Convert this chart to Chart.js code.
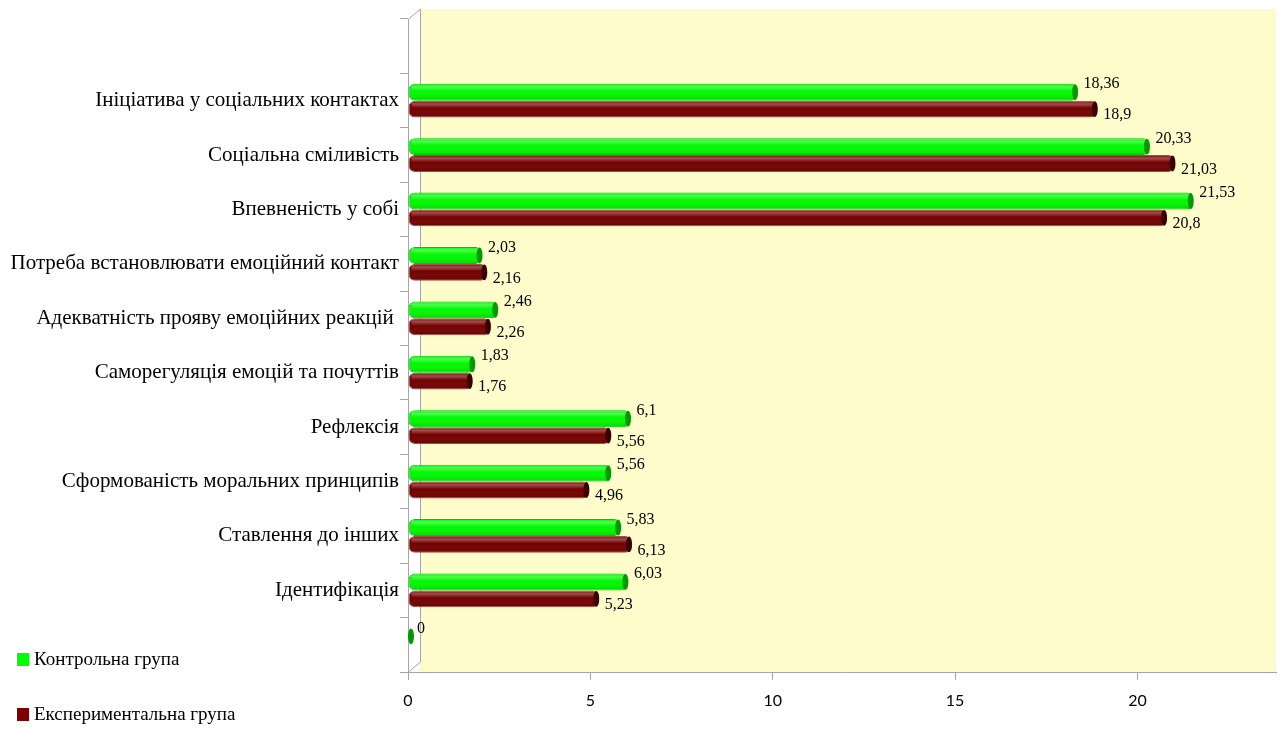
<!DOCTYPE html>
<html>
<head>
<meta charset="utf-8">
<script src="https://cdn.jsdelivr.net/npm/chart.js@4/dist/chart.umd.min.js"></script>
<style>
  body { margin: 0; background: #fff; }
</style>
</head>
<body>
<canvas id="chart_scale" width="1283" height="731"></canvas>
<script>
// categories, top to bottom (empty slots at both ends as in the original)
const categories = [
    '',
    'Ініціатива у соціальних контактах',
    'Соціальна сміливість',
    'Впевненість у собі',
    'Потреба встановлювати емоційний контакт',
    'Адекватність прояву емоційних реакцій ',
    'Саморегуляція емоцій та почуттів',
    'Рефлексія',
    'Сформованість моральних принципів',
    'Ставлення до інших',
    'Ідентифікація',
    ''
];
const controlGroup = [null, 18.36, 20.33, 21.53, 2.03, 2.46, 1.83, 6.1, 5.56, 5.83, 6.03, 0];
const experimentalGroup = [null, 18.9, 21.03, 20.8, 2.16, 2.26, 1.76, 5.56, 4.96, 6.13, 5.23, null];
const xTicks = [0, 5, 10, 15, 20];

const serif = '"Liberation Serif", "Times New Roman", serif';

// yellow back wall + left side wall of the 3d box
const wallPlugin = {
    id: 'wall',
    beforeDraw(chart) {
        const ctx = chart.ctx;
        const a = chart.chartArea;
        const depth = 12;
        ctx.save();
        ctx.fillStyle = '#fff';
        ctx.fillRect(0, 0, chart.width, chart.height);
        ctx.fillStyle = '#FFFCCC';
        ctx.fillRect(a.left + depth, a.top - 10, a.right - a.left - depth, a.bottom - a.top + 10);
        ctx.strokeStyle = '#a6a6a6';
        ctx.lineWidth = 1;
        ctx.beginPath();
        ctx.moveTo(a.left + 0.5, a.top);
        ctx.lineTo(a.left + depth + 0.5, a.top - 10);
        ctx.lineTo(a.left + depth + 0.5, a.bottom - 10);
        ctx.lineTo(a.left + 0.5, a.bottom);
        ctx.stroke();
        ctx.restore();
    }
};

// cylinder shading, end caps and value labels
const cylinderPlugin = {
    id: 'cylinders',
    afterDatasetsDraw(chart) {
        const ctx = chart.ctx;
        const caps = ['#009a00', '#3a0000'];
        ctx.save();
        chart.data.datasets.forEach((ds, i) => {
            const meta = chart.getDatasetMeta(i);
            meta.data.forEach((bar, j) => {
                const v = ds.data[j];
                if (v === null) return;
                const p = bar.getProps(['x', 'y', 'base', 'height'], true);
                const top = p.y - p.height / 2;
                if (p.x - p.base > 4) {
                    const g = ctx.createLinearGradient(0, top, 0, top + p.height);
                    g.addColorStop(0, 'rgba(255,255,255,0.05)');
                    g.addColorStop(0.2, 'rgba(255,255,255,0.3)');
                    g.addColorStop(0.45, 'rgba(255,255,255,0)');
                    g.addColorStop(1, 'rgba(0,0,0,0.15)');
                    ctx.fillStyle = g;
                    ctx.fillRect(p.base + 3, top + 1, p.x - p.base - 6, p.height - 2);
                }
                ctx.fillStyle = caps[i];
                ctx.beginPath();
                ctx.ellipse(Math.max(p.x - 2.5, p.base + 3), p.y, 3, p.height / 2 - 0.5, 0, 0, Math.PI * 2);
                ctx.fill();

                ctx.fillStyle = '#000';
                ctx.font = '16px ' + serif;
                ctx.textBaseline = 'middle';
                ctx.textAlign = 'left';
                const txt = String(v).replace('.', ',');
                ctx.fillText(txt, Math.max(p.x, p.base + 3) + 6, p.y + (i === 0 ? -8 : 6));
            });
        });
        ctx.restore();
    }
};

// legend in the bottom-left corner
const legendPlugin = {
    id: 'cornerLegend',
    afterDraw(chart) {
        const ctx = chart.ctx;
        ctx.save();
        ctx.font = '19px ' + serif;
        ctx.textBaseline = 'middle';
        ctx.textAlign = 'left';
        chart.data.datasets.forEach((ds, i) => {
            const y = 659 + i * 55;
            ctx.fillStyle = ds.legendColor;
            ctx.fillRect(17, y - 6, 12, 13);
            ctx.fillStyle = '#000';
            ctx.fillText(ds.label, 34, y + 1);
        });
        ctx.restore();
    }
};

const chart = new Chart(document.getElementById('chart_scale'), {
    type: 'bar',
    data: {
        labels: categories,
        datasets: [{
            label: 'Контрольна група',
            data: controlGroup,
            backgroundColor: '#00F800',
            borderColor: '#00c800',
            borderWidth: 1,
            borderSkipped: false,
            borderRadius: 6,
            legendColor: '#00FF00'
        }, {
            label: 'Експериментальна група',
            data: experimentalGroup,
            backgroundColor: '#740000',
            borderColor: '#a05048',
            borderWidth: 1,
            borderSkipped: false,
            borderRadius: 6,
            legendColor: '#7F0000'
        }]
    },
    options: {
        indexAxis: 'y',
        responsive: false,
        animation: false,
        categoryPercentage: 0.62,
        barPercentage: 1.0,
        layout: { padding: { left: 8, right: 7, top: 19, bottom: 19 } },
        plugins: {
            legend: { display: false },
            tooltip: { enabled: false }
        },
        scales: {
            x: {
                min: 0,
                max: 23.8,
                afterBuildTicks: (scale) => {
                    scale.ticks = xTicks.map(v => ({ value: v }));
                },
                afterFit: (scale) => { scale.height = 40; },
                border: { color: '#a6a6a6' },
                grid: { drawOnChartArea: false, tickLength: 8, color: '#a6a6a6' },
                ticks: { color: '#000', padding: 11, font: { family: 'Lato', size: 16 } }
            },
            y: {
                afterFit: (scale) => { scale.width = 400; },
                border: { color: '#a6a6a6' },
                grid: { drawOnChartArea: false, tickLength: 8, color: '#a6a6a6', offset: true },
                ticks: { color: '#000', padding: 1, font: { family: 'Liberation Serif', size: 21 } }
            }
        }
    },
    plugins: [wallPlugin, cylinderPlugin, legendPlugin]
});
</script>
</body>
</html>
